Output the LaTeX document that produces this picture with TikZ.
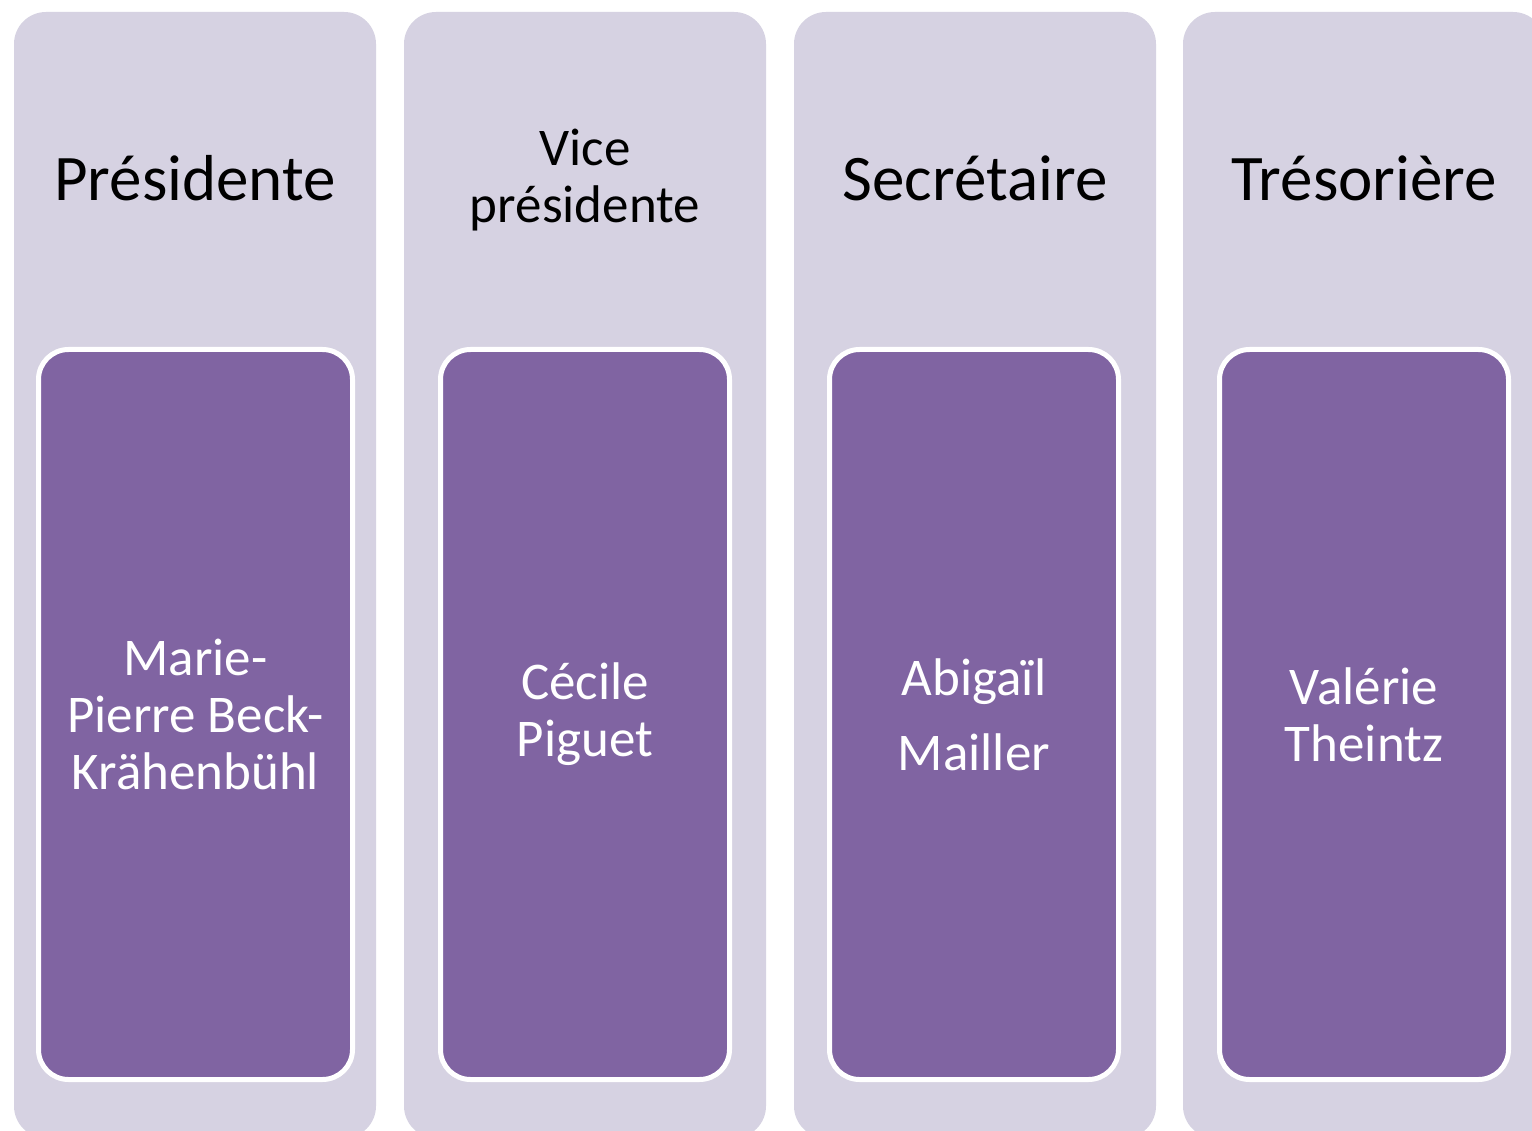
\documentclass[tikz,border=0pt]{standalone}
\usepackage{fontspec}
\setmainfont{Carlito}
\definecolor{colbg}{RGB}{214,210,226}
\definecolor{boxpurple}{RGB}{128,100,162}
\begin{document}
\begin{tikzpicture}[x=1pt,y=-1pt,
  column/.style={rectangle,fill=colbg,rounded corners=32pt,minimum width=362pt,minimum height=1126pt,inner sep=0pt},
  namebox/.style={rectangle,fill=boxpurple,draw=white,line width=5pt,rounded corners=30pt,minimum height=730pt,inner sep=0pt,align=center,text=white,font=\fontsize{53}{57}\selectfont},
  title/.style={align=center,text=black,inner sep=0pt,font=\fontsize{65}{78}\selectfont},
  smalltitle/.style={align=center,text=black,inner sep=0pt,font=\fontsize{53}{57}\selectfont}]
\useasboundingbox (0,0) rectangle (1532,1131);
\clip (0,0) rectangle (1532,1131);
\fill[white] (0,0) rectangle (1532,1131);
\node[column] (c1) at (195,575) {};
\node[column] (c2) at (585,575) {};
\node[column] (c3) at (975,575) {};
\node[column] (c4) at (1364,575) {};
\node[namebox,minimum width=314pt] (n1) at (195.5,714.5) {Marie-\\Pierre Beck-\\Krähenbühl};
\node[namebox,minimum width=289pt] (n2) at (585,714.5) {Cécile\\Piguet};
\node[namebox,minimum width=289pt,font=\fontsize{53}{75}\selectfont] (n3) at (974,714.5) {Abigaïl\\Mailler};
\node[namebox,minimum width=289pt] (n4) at (1364,714.5) {Valérie\\Theintz};
\node[title] (t1) at (195,178) {Présidente};
\node[smalltitle] (t2) at (585,180) {Vice\\présidente};
\node[title] (t3) at (975,178) {Secrétaire};
\node[title] (t4) at (1364,178) {Trésorière};
\end{tikzpicture}
\end{document}
